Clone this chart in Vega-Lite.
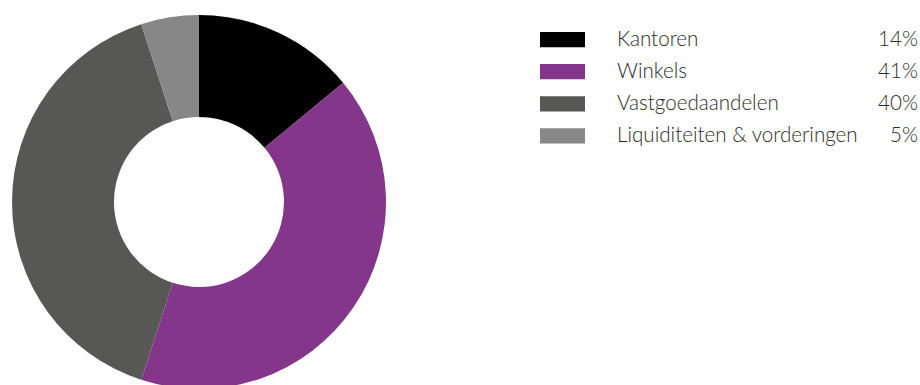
{
  "$schema": "https://vega.github.io/schema/vega-lite/v6.json",
  "padding": 0,
  "background": "white",
  "config": {"view": {"stroke": null}, "font": "Lato", "text": {"font": "Lato"}},
  "data": {"values": [
    {"category": "Kantoren", "share": 0.14, "order": 1},
    {"category": "Winkels", "share": 0.41, "order": 2},
    {"category": "Vastgoedaandelen", "share": 0.40, "order": 3},
    {"category": "Liquiditeiten & vorderingen", "share": 0.05, "order": 4}
  ]},
  "spacing": 142,
  "hconcat": [
    {
      "width": 398,
      "height": 404,
      "mark": {"type": "arc", "outerRadius": 187, "innerRadius": 85},
      "encoding": {
        "theta": {"field": "share", "type": "quantitative", "stack": true},
        "order": {"field": "order", "type": "quantitative"},
        "color": {"field": "category", "type": "nominal", "legend": null,
          "scale": {"domain": ["Kantoren", "Winkels", "Vastgoedaandelen", "Liquiditeiten & vorderingen"],
                    "range": ["#000000", "#84378a", "#575756", "#878787"]}}
      }
    },
    {
      "spacing": 32,
      "hconcat": [
        {
          "width": 45,
          "height": 175.5,
          "mark": {"type": "rect"},
          "encoding": {
            "y": {"field": "category", "type": "nominal", "axis": null, "sort": {"field": "order"},
                  "scale": {"type": "band", "paddingInner": 0.5238, "paddingOuter": 1.0476}},
            "color": {"field": "category", "type": "nominal", "legend": null,
              "scale": {"domain": ["Kantoren", "Winkels", "Vastgoedaandelen", "Liquiditeiten & vorderingen"],
                        "range": ["#000000", "#84378a", "#575756", "#878787"]}}
          }
        },
        {
          "width": 301,
          "height": 175.5,
          "layer": [
            {
              "mark": {"type": "text", "align": "left", "baseline": "middle", "fontSize": 20.6, "fontWeight": 300, "color": "#2b2b2b", "font": "Lato"},
              "encoding": {
                "y": {"field": "category", "type": "nominal", "axis": null, "sort": {"field": "order"}, "bandPosition": 0.5,
                      "scale": {"type": "band", "paddingInner": 0.5238, "paddingOuter": 1.0476}},
                "x": {"value": 0},
                "text": {"field": "category", "type": "nominal"}
              }
            },
            {
              "mark": {"type": "text", "align": "right", "baseline": "middle", "fontSize": 20.6, "fontWeight": 300, "color": "#2b2b2b", "font": "Lato"},
              "encoding": {
                "y": {"field": "category", "type": "nominal", "axis": null, "sort": {"field": "order"}, "bandPosition": 0.5,
                      "scale": {"type": "band", "paddingInner": 0.5238, "paddingOuter": 1.0476}},
                "x": {"value": "width"},
                "text": {"field": "share", "type": "quantitative", "format": ".0%"}
              }
            }
          ]
        }
      ]
    }
  ]
}
